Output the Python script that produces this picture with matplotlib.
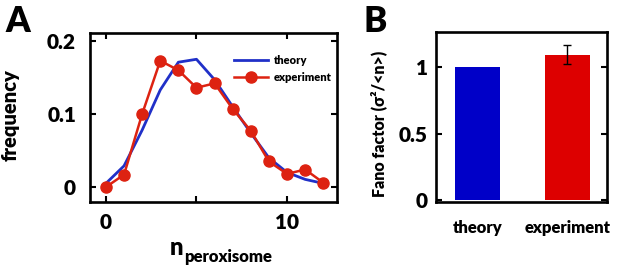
import numpy as np
import matplotlib
matplotlib.use("Agg")
import matplotlib.pyplot as plt

plt.rcParams['font.family'] = ['Lato', 'DejaVu Sans']
W = "heavy"
plt.rcParams['font.weight'] = W

# panel A data
n_vals = np.arange(0, 13)
theory = [0.005, 0.029, 0.078, 0.133, 0.171, 0.175, 0.147, 0.110, 0.074, 0.040, 0.020, 0.0105, 0.005]
experiment = [0.0, 0.017, 0.100, 0.173, 0.160, 0.136, 0.142, 0.107, 0.077, 0.035, 0.018, 0.024, 0.006]

# panel B data
bar_labels = ["theory", "experiment"]
fano = [1.0, 1.096]
fano_err = [0.0, 0.072]

blue = "#2030c8"
red = "#dd2211"

fig = plt.figure(figsize=(6.17, 2.69), dpi=100)

def style_box(ax):
    for s in ax.spines.values():
        s.set_linewidth(1.9)
    ax.tick_params(direction="in", width=1.5, length=4, labelsize=15)
    for lab in ax.get_xticklabels() + ax.get_yticklabels():
        lab.set_fontweight(W)

# ---- A ----
axA = fig.add_axes([90/617, 1-202/269, 247/617, 169/269])
axA.plot(n_vals, theory, color=blue, lw=2.0, label="theory")
axA.plot(n_vals, experiment, color=red, lw=1.8, marker="o", ms=8, label="experiment")
axA.set_xlim(-0.88, 12.76)
axA.set_ylim(-0.0205, 0.211)
axA.set_xticks([0, 5, 10])
axA.set_xticklabels(["0", "", "10"])
axA.set_yticks([0, 0.1, 0.2])
axA.set_yticklabels(["0", "0.1", "0.2"])
axA.tick_params(top=True, right=True)
style_box(axA)
axA.tick_params(axis="y", pad=10)
axA.tick_params(axis="x", pad=8)
leg = axA.legend(loc="upper left", bbox_to_anchor=(0.585, 0.87), frameon=False,
                 fontsize=8, handlelength=3.0, handletextpad=0.5,
                 labelspacing=0.5, borderpad=0, borderaxespad=0)
for t in leg.get_texts():
    t.set_fontweight(W)

fig.text(10/617, 1-115/269, "frequency", rotation=90, ha="center", va="center",
         fontsize=14.5, fontweight=W)
fig.text(170/617, 1-255/269, "n", ha="left", va="baseline", fontsize=17, fontweight=W)
fig.text(184/617, 1-262/269, "peroxisome", ha="left", va="baseline", fontsize=12, fontweight=W)
fig.text(5/617, 1-32/269, "A", ha="left", va="baseline", fontsize=25, fontweight=W)

# ---- B ----
axB = fig.add_axes([436/617, 1-201.5/269, 171/617, 169.5/269])
xpos = np.arange(len(bar_labels))
axB.bar(xpos, fano, width=0.505, color=["#0000c8", "#dd0000"])
axB.errorbar(xpos[1], fano[1], yerr=fano_err[1], color="black", lw=1, capsize=3, capthick=1)
axB.set_xlim(-0.46, 1.44)
axB.set_ylim(-0.008, 1.265)
axB.set_xticks(xpos)
axB.set_xticklabels(bar_labels)
axB.set_yticks([0, 0.5, 1])
axB.set_yticklabels(["0", "0.5", "1"])
axB.tick_params(right=True)
style_box(axB)
axB.tick_params(axis="x", length=0, pad=13, labelsize=12)
axB.tick_params(axis="y", pad=6)

fig.text(379/617, 1-123.5/269, "Fano factor (σ²/<n>)", rotation=90, ha="center", va="center",
         fontsize=11.5, fontweight=W)
fig.text(364/617, 1-32/269, "B", ha="left", va="baseline", fontsize=25, fontweight=W)

fig.savefig("out.png", dpi=100)
